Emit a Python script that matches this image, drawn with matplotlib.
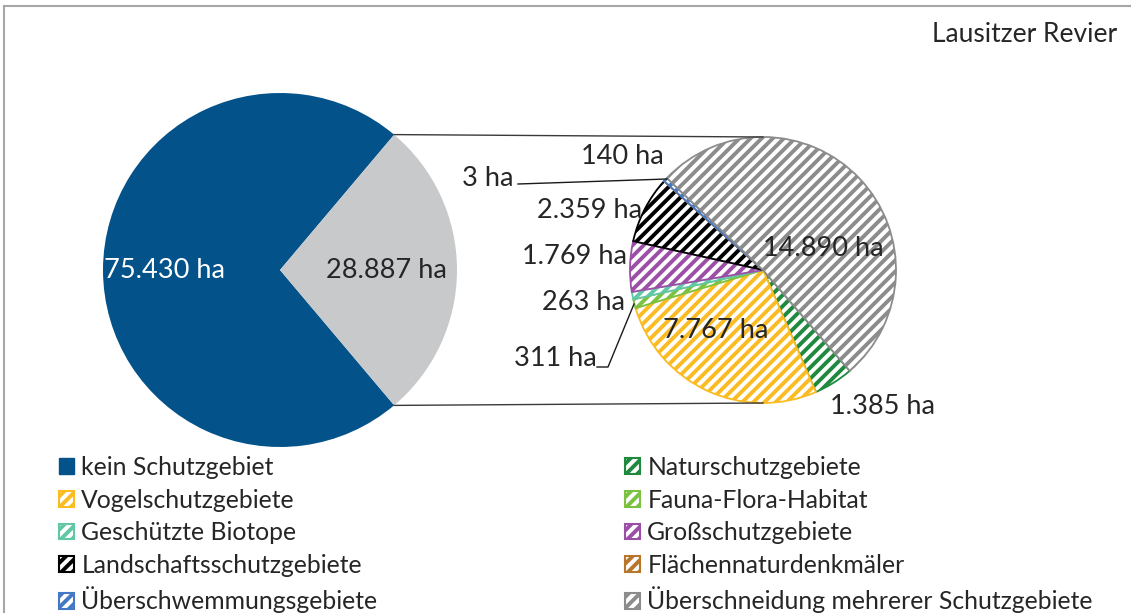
import matplotlib
matplotlib.use("Agg")
import matplotlib.pyplot as plt
from matplotlib.patches import Patch
from matplotlib.lines import Line2D

plt.rcParams['font.family'] = ['Lato', 'DejaVu Sans']
plt.rcParams['hatch.linewidth'] = 2.8

# ---- data -------------------------------------------------------------
title = "Lausitzer Revier"
overview_labels = ["kein Schutzgebiet", "Schutzgebiete gesamt"]
overview_values = [75430, 28887]
overview_colors = ["#03528a", "#c8c9cb"]

detail_labels = ["Naturschutzgebiete", "Vogelschutzgebiete", "Fauna-Flora-Habitat",
                 "Geschützte Biotope", "Großschutzgebiete", "Landschaftsschutzgebiete",
                 "Flächennaturdenkmäler", "Überschwemmungsgebiete",
                 "Überschneidung mehrerer Schutzgebiete"]
detail_values = [1385, 7767, 311, 263, 1769, 2359, 3, 140, 14890]
detail_colors = ["#1f8a3e", "#fbbb22", "#7cc242", "#62c7a6", "#9c4fa6",
                 "#000000", "#b8762c", "#4578c4", "#8c8c8c"]

W, H = 1131, 613
TXT = "#262626"
FS_VAL = 19.5
FS_TITLE = 19
FS_LEG = 17.8


def fmt(v):
    return f"{v:,}".replace(",", ".") + " ha"


def Y(py):
    return H - py


fig = plt.figure(figsize=(W / 100, H / 100), dpi=100)
ax = fig.add_axes([0, 0, 1, 1])

# ---- overview pie -----------------------------------------------------
c1, r1 = (280, Y(270)), 177
half = overview_values[1] / sum(overview_values) * 180
w1, _ = ax.pie(overview_values, colors=overview_colors, center=c1, radius=r1,
               startangle=half, frame=True, wedgeprops=dict(linewidth=0))

# ---- detail pie -------------------------------------------------------
c2, r2 = (763, Y(270)), 133
w2, _ = ax.pie(detail_values, colors=["white"] * len(detail_values), center=c2,
               radius=r2, startangle=-49.3, counterclock=False, frame=True)
for w, col in zip(w2, detail_colors):
    w.set_edgecolor(col)
    w.set_linewidth(1.3)
    w.set_hatch("///")

# connector lines between the two pies
ax.plot([c1[0] + r1 * 0.6440, c2[0]], [c1[1] + r1 * 0.7650, c2[1] + r2],
        color="#3a3a3a", lw=1.0)
ax.plot([c1[0] + r1 * 0.6440, c2[0]], [c1[1] - r1 * 0.7650, c2[1] - r2],
        color="#3a3a3a", lw=1.0)

# ---- value labels -----------------------------------------------------
ax.text(165, Y(271), fmt(overview_values[0]), color="white", fontsize=FS_VAL,
        ha="center", va="center")
ax.text(386, Y(271), fmt(overview_values[1]), color=TXT, fontsize=FS_VAL,
        ha="center", va="center")

label_pos = [(882, 407), (716, 330), (555, 358), (584, 302), (575, 257),
             (590, 210), (488, 178), (622, 157), (823, 248)]
for v, (px, py) in zip(detail_values, label_pos):
    ax.text(px, Y(py), fmt(v), color=TXT, fontsize=FS_VAL, ha="center", va="center")

# leader lines for the narrow slices
ax.plot([518, 667], [Y(184), Y(179)], color="#1a1a1a", lw=1.0)
ax.plot([597, 608, 634], [Y(367), Y(367), Y(304)], color="#1a1a1a", lw=1.0)

ax.set_xlim(0, W)
ax.set_ylim(0, H)
ax.set_aspect("equal")
ax.axis("off")

# title
fig.text(1117 / W, 1 - 35 / H, title, ha="right", va="center",
         fontsize=FS_TITLE, color=TXT)

# ---- legend (row-major, two columns) ----------------------------------
handles = [Patch(facecolor=overview_colors[0], edgecolor=overview_colors[0],
                 label=overview_labels[0])]
for lab, col in zip(detail_labels, detail_colors):
    handles.append(Patch(facecolor="white", edgecolor=col, hatch="///",
                         linewidth=1.5, label=lab))
left_col = handles[0::2]
right_col = handles[1::2]

common = dict(frameon=False, fontsize=FS_LEG, handlelength=0.6, handleheight=0.6,
              handletextpad=0.3, labelspacing=0.39, borderpad=0,
              borderaxespad=0, labelcolor=TXT, loc="upper left")
leg1 = fig.legend(handles=left_col, bbox_to_anchor=(59 / W, 1 - 456 / H), **common)
leg2 = fig.legend(handles=right_col, bbox_to_anchor=(625 / W, 1 - 456 / H), **common)

# outer frame (top and left edges)
fig.add_artist(Line2D([4 / W, 1], [1 - 6 / H, 1 - 6 / H], transform=fig.transFigure,
                      color="#a6a6a6", lw=1.5))
fig.add_artist(Line2D([4 / W, 4 / W], [0, 1 - 6 / H], transform=fig.transFigure,
                      color="#a6a6a6", lw=1.5))

fig.savefig("out.png", dpi=100)
